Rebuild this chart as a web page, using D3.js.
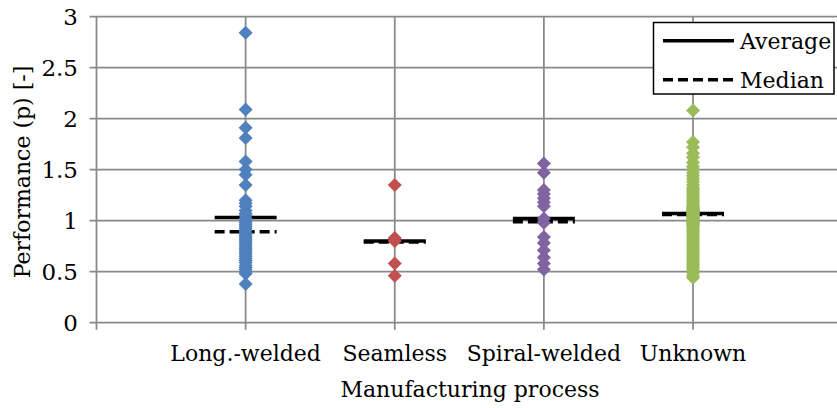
<!DOCTYPE html>
<html><head><meta charset="utf-8">
<script src="https://cdn.jsdelivr.net/npm/d3@7/dist/d3.min.js"></script>
<style>
body{margin:0;background:#fff}
</style>
</head><body>
<svg id="c" width="837" height="408"></svg>
<script>
const categories = ["Long.-welded", "Seamless", "Spiral-welded", "Unknown"];
const longWelded = [2.84, 2.09, 1.91, 1.81, 1.58, 1.50, 1.45, 1.35, 1.20, 1.17, 1.14, 1.10, 1.07, 1.05, 1.02, 1.00, 0.98, 0.96, 0.94, 0.92, 0.90, 0.88, 0.87, 0.85, 0.83, 0.81, 0.79, 0.77, 0.75, 0.73, 0.71, 0.69, 0.67, 0.65, 0.63, 0.61, 0.59, 0.56, 0.54, 0.52, 0.50, 0.48, 0.38];
const seamless = [1.35, 0.83, 0.80, 0.58, 0.46];
const spiralWelded = [1.56, 1.47, 1.30, 1.26, 1.22, 1.18, 1.14, 1.02, 0.98, 0.84, 0.78, 0.71, 0.64, 0.58, 0.52];
const unknown = [2.08, 1.77, 1.72, 1.66, 1.62, 1.57, 1.53, 1.50, 1.47, 1.44, 1.41, 1.38, 1.35, 1.32, 1.30, 1.28, 1.26, 1.24, 1.22, 1.20, 1.18, 1.16, 1.14, 1.13, 1.12, 1.11, 1.10, 1.09, 1.08, 1.07, 1.06, 1.05, 1.04, 1.03, 1.02, 1.01, 1.00, 0.99, 0.98, 0.97, 0.96, 0.95, 0.93, 0.91, 0.89, 0.87, 0.85, 0.83, 0.81, 0.79, 0.77, 0.75, 0.73, 0.71, 0.69, 0.67, 0.65, 0.63, 0.61, 0.59, 0.57, 0.55, 0.53, 0.51, 0.49, 0.46, 0.44];
const averages = [1.03, 0.80, 1.02, 1.07];
const medians = [0.89, 0.79, 0.99, 1.06];
const yTicks = [0, 0.5, 1, 1.5, 2, 2.5, 3];
const colors = ["#4F81BD", "#C0504D", "#8064A2", "#9BBB59"];
const legendLabels = ["Average", "Median"];

const seriesValues = [longWelded, seamless, spiralWelded, unknown];

const svg = d3.select("#c");
const W = 837;
const x = d3.scaleLinear().domain([0, 4]).range([96.5, 693]);
const y = d3.scaleLinear().domain([0, 3]).range([322.7, 16.5]);
const gridColor = "#898989";
const FONT = "DejaVu Serif";
const FS = 22;

// horizontal gridlines
svg.append("g").selectAll("line").data(yTicks).join("line")
  .attr("x1", x(0) - 7).attr("x2", W)
  .attr("y1", d => y(d)).attr("y2", d => y(d))
  .attr("stroke", gridColor).attr("stroke-width", 1.75);

// vertical gridlines at categories
svg.append("g").selectAll("line").data(categories).join("line")
  .attr("x1", (d, i) => x(i + 1)).attr("x2", (d, i) => x(i + 1))
  .attr("y1", y(3)).attr("y2", y(0) + 7)
  .attr("stroke", gridColor).attr("stroke-width", 1.75);

// y axis line
svg.append("line").attr("x1", x(0)).attr("x2", x(0)).attr("y1", y(3)).attr("y2", y(0) + 7)
  .attr("stroke", gridColor).attr("stroke-width", 1.75);

// y tick labels
svg.append("g").selectAll("text").data(yTicks).join("text")
  .attr("x", 78).attr("y", d => y(d)).attr("dy", "0.35em")
  .attr("text-anchor", "end").attr("font-size", FS + 1).attr("font-family", FONT)
  .text(d => d3.format("")(d));

// x labels
svg.append("g").selectAll("text").data(categories).join("text")
  .attr("x", (d, i) => x(i + 1)).attr("y", 361)
  .attr("text-anchor", "middle").attr("font-size", FS).attr("font-family", FONT)
  .text(d => d);

// axis titles
svg.append("text").attr("x", 470).attr("y", 397).attr("text-anchor", "middle")
  .attr("font-size", FS).attr("font-family", FONT).text("Manufacturing process");
svg.append("text").attr("transform", "translate(30,172) rotate(-90)")
  .attr("text-anchor", "middle").attr("font-size", FS).attr("font-family", FONT).text("Performance (p) [-]");

// average & median lines
const hw = 31;
svg.append("g").selectAll("line").data(averages).join("line")
  .attr("x1", (d, i) => x(i + 1) - hw).attr("x2", (d, i) => x(i + 1) + hw)
  .attr("y1", d => y(d)).attr("y2", d => y(d))
  .attr("stroke", "#000").attr("stroke-width", 3.5);
svg.append("g").selectAll("line").data(medians).join("line")
  .attr("x1", (d, i) => x(i + 1) - hw).attr("x2", (d, i) => x(i + 1) + hw)
  .attr("y1", d => y(d)).attr("y2", d => y(d))
  .attr("stroke", "#000").attr("stroke-width", 3.5).attr("stroke-dasharray", "10,5");

// points
const sym = d3.symbol().type(d3.symbolSquare).size(98);
seriesValues.forEach((vals, i) => {
  svg.append("g").selectAll("path").data(vals).join("path")
    .attr("d", sym)
    .attr("transform", d => `translate(${x(i + 1)},${y(d)}) rotate(45)`)
    .attr("fill", colors[i]);
});

// legend
const lg = svg.append("g");
lg.append("rect").attr("x", 653.5).attr("y", 22.5).attr("width", 180.5).attr("height", 71.5)
  .attr("fill", "#fff").attr("stroke", "#000").attr("stroke-width", 1.5);
legendLabels.forEach((lab, k) => {
  const ly = 40.7 + k * 39;
  lg.append("line").attr("x1", 663).attr("x2", 734).attr("y1", ly).attr("y2", ly)
    .attr("stroke", "#000").attr("stroke-width", 3.5)
    .attr("stroke-dasharray", k === 1 ? "10,5" : null);
  lg.append("text").attr("x", 740).attr("y", ly + 8).attr("font-size", FS).attr("font-family", FONT).text(lab);
});
</script>
</body></html>
